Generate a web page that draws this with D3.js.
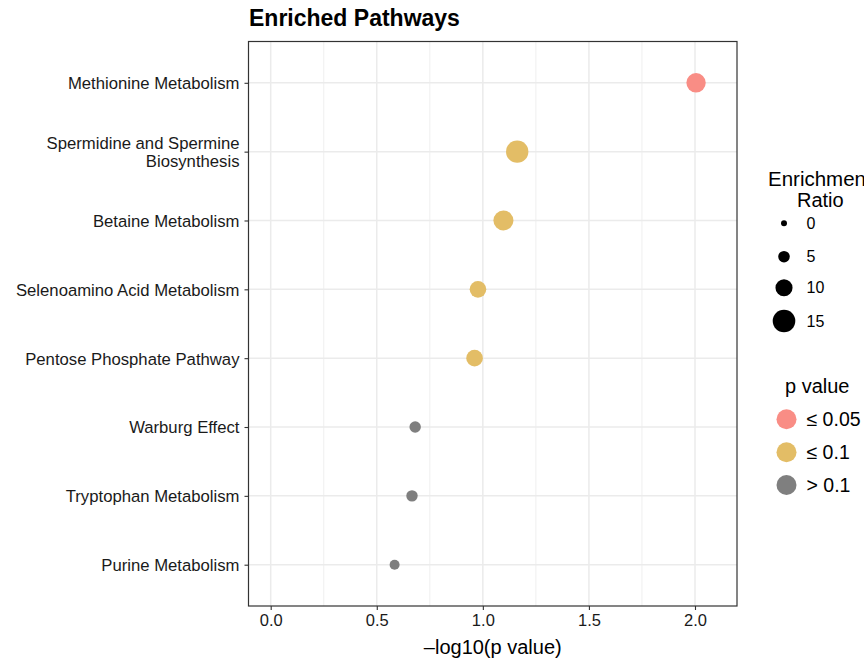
<!DOCTYPE html>
<html>
<head>
<meta charset="utf-8">
<script src="https://cdn.jsdelivr.net/npm/d3@7"></script>
<style>
  html, body { margin: 0; padding: 0; background: #fff; overflow: hidden; }
  svg { display: block; font-family: "Liberation Sans", Arial, Helvetica, sans-serif; }
</style>
</head>
<body>
<svg id="chart" width="864" height="661"></svg>
<script>
// ---- data ----
const pathways = [
  "Methionine Metabolism",
  "Spermidine and Spermine\nBiosynthesis",
  "Betaine Metabolism",
  "Selenoamino Acid Metabolism",
  "Pentose Phosphate Pathway",
  "Warburg Effect",
  "Tryptophan Metabolism",
  "Purine Metabolism"
];
const negLogP = [2.005, 1.162, 1.097, 0.977, 0.961, 0.681, 0.666, 0.584];
const enrichmentRatio = [12.1, 14.8, 12.7, 9.6, 9.6, 4.9, 4.9, 3.6];
const pGroup = ["≤ 0.05", "≤ 0.1", "≤ 0.1", "≤ 0.1", "≤ 0.1", "> 0.1", "> 0.1", "> 0.1"];
const pGroups = ["≤ 0.05", "≤ 0.1", "> 0.1"];
const pColors = ["#F98D85", "#E3BD66", "#7F7F7F"];
const xTicks = [0, 0.5, 1.0, 1.5, 2.0];
const xMinor = [0.25, 0.75, 1.25, 1.75];
const sizeBreaks = [0, 5, 10, 15];

const rows = pathways.map((p, i) => ({
  pathway: p, x: negLogP[i], ratio: enrichmentRatio[i], group: pGroup[i]
}));

// ---- layout ----
const svg = d3.select("#chart");
const panel = { left: 248.5, right: 737, top: 41.5, bottom: 606 };

const x = d3.scaleLinear().domain([-0.1046, 2.198]).range([panel.left, panel.right]);
const y = d3.scalePoint().domain(pathways).range([panel.top, panel.bottom]).padding(0.6);
const r = d3.scaleLinear().domain([0, 15]).range([3, 11.3]);
const color = d3.scaleOrdinal().domain(pGroups).range(pColors);

svg.append("rect")
  .attr("x", panel.left).attr("y", panel.top)
  .attr("width", panel.right - panel.left).attr("height", panel.bottom - panel.top)
  .attr("fill", "#fff");

const grid = svg.append("g");
grid.selectAll("line.minor").data(xMinor).join("line")
  .attr("x1", d => x(d)).attr("x2", d => x(d))
  .attr("y1", panel.top).attr("y2", panel.bottom)
  .attr("stroke", "#EBEBEB").attr("stroke-width", 0.8);
grid.selectAll("line.majx").data(xTicks).join("line")
  .attr("x1", d => x(d)).attr("x2", d => x(d))
  .attr("y1", panel.top).attr("y2", panel.bottom)
  .attr("stroke", "#EBEBEB").attr("stroke-width", 1.5);
grid.selectAll("line.majy").data(pathways).join("line")
  .attr("x1", panel.left).attr("x2", panel.right)
  .attr("y1", d => y(d)).attr("y2", d => y(d))
  .attr("stroke", "#EBEBEB").attr("stroke-width", 1.5);

svg.append("g").selectAll("circle").data(rows).join("circle")
  .attr("cx", d => x(d.x)).attr("cy", d => y(d.pathway))
  .attr("r", d => r(d.ratio))
  .attr("fill", d => color(d.group));

svg.append("rect")
  .attr("x", panel.left).attr("y", panel.top)
  .attr("width", panel.right - panel.left).attr("height", panel.bottom - panel.top)
  .attr("fill", "none").attr("stroke", "#333").attr("stroke-width", 1.2);

const xAxis = d3.axisBottom(x).tickValues(xTicks).tickFormat(d3.format(".1f")).tickSize(4).tickPadding(4);
const gx = svg.append("g").attr("transform", `translate(0,${panel.bottom})`).call(xAxis);
gx.select(".domain").remove();
gx.selectAll(".tick line").attr("stroke", "#333").attr("stroke-width", 1.1);
gx.selectAll(".tick text").attr("fill", "#1a1a1a").attr("font-size", "16.5px")
  .attr("font-family", "Liberation Sans, Arial, sans-serif");

const yAxis = d3.axisLeft(y).tickSize(4).tickPadding(5).tickFormat("");
const gy = svg.append("g").attr("transform", `translate(${panel.left},0)`).call(yAxis);
gy.select(".domain").remove();
gy.selectAll(".tick line").attr("stroke", "#333").attr("stroke-width", 1.1);
gy.selectAll(".tick").each(function(d) {
  const lines = d.split("\n");
  const t = d3.select(this).append("text")
    .attr("x", -9).attr("fill", "#1a1a1a")
    .attr("text-anchor", "end").attr("font-size", "16.7px");
  const lh = 18;
  const y0 = -(lines.length - 1) * lh / 2;
  lines.forEach((ln, i) => {
    t.append("tspan").attr("x", -9).attr("y", y0 + i * lh).attr("dy", "0.35em").text(ln);
  });
});

svg.append("text")
  .attr("x", (panel.left + panel.right) / 2).attr("y", 654)
  .attr("text-anchor", "middle").attr("font-size", "20px").attr("fill", "#000")
  .text("\u2013log10(p value)");

svg.append("text")
  .attr("x", panel.left + 0.5).attr("y", 26)
  .attr("font-size", "23px").attr("font-weight", "bold").attr("fill", "#000")
  .text("Enriched Pathways");

const lg1 = svg.append("g");
lg1.append("text").attr("x", 768).attr("y", 186).attr("font-size", "20.5px").text("Enrichment");
lg1.append("text").attr("x", 797).attr("y", 206.5).attr("font-size", "20px").text("Ratio");
const sizeY = [223.3, 256.7, 287.7, 321];
lg1.selectAll("circle").data(sizeBreaks).join("circle")
  .attr("cx", 784).attr("cy", (d, i) => sizeY[i]).attr("r", d => r(d)).attr("fill", "#000");
lg1.selectAll("text.lab").data(sizeBreaks).join("text")
  .attr("class", "lab")
  .attr("x", 806.5).attr("y", (d, i) => sizeY[i]).attr("dy", "0.35em")
  .attr("font-size", "16px").text(d => d);

const lg2 = svg.append("g");
lg2.append("text").attr("x", 785).attr("y", 393).attr("font-size", "20px").text("p value");
const colY = [419.3, 452.3, 485];
lg2.selectAll("circle").data(pGroups).join("circle")
  .attr("cx", 786.5).attr("cy", (d, i) => colY[i]).attr("r", 10).attr("fill", d => color(d));
lg2.selectAll("text.lab").data(pGroups).join("text")
  .attr("class", "lab")
  .attr("x", 806.5).attr("y", (d, i) => colY[i]).attr("dy", "0.35em")
  .attr("font-size", "19.5px").text(d => d);
</script>
</body>
</html>
